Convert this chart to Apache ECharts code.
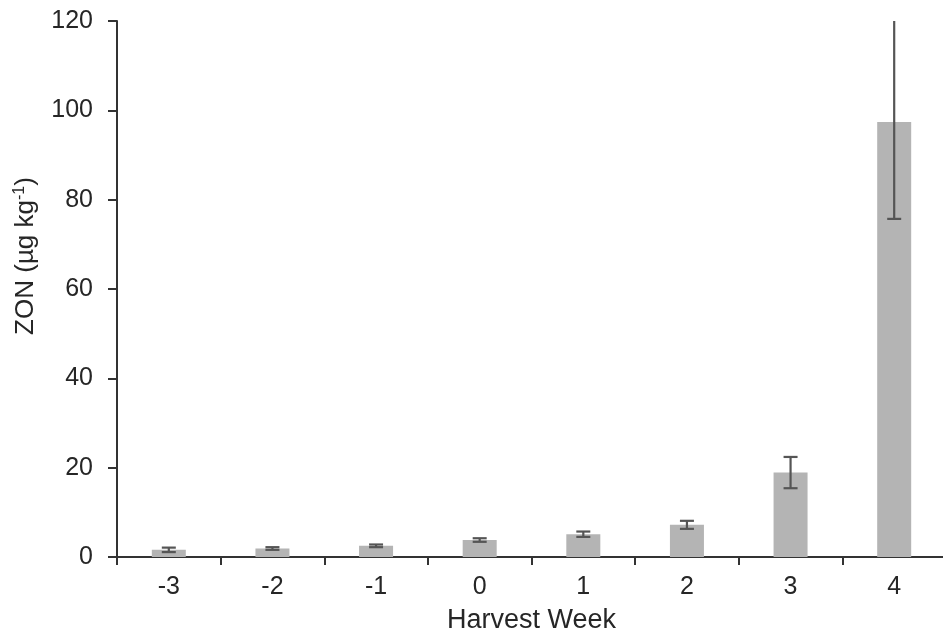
<!DOCTYPE html>
<html>
<head>
<meta charset="utf-8">
<script src="https://cdn.jsdelivr.net/npm/echarts@6/dist/echarts.min.js"></script>
<style>
  html, body { margin: 0; padding: 0; background: #fff; }
  #chart { width: 943px; height: 639px; }
</style>
</head>
<body>
<div id="chart"></div>
<script>
// Harvest week categories and mean ZON concentration (µg/kg)
const weeks = ['-3', '-2', '-1', '0', '1', '2', '3', '4'];
const zonMean = [1.6, 1.9, 2.5, 3.8, 5.1, 7.2, 18.9, 97.4];
// error bar half-lengths below and above the mean
const errLow  = [0.5, 0.3, 0.3, 0.4, 0.6, 0.9, 3.5, 21.7];
const errHigh = [0.5, 0.3, 0.3, 0.4, 0.6, 0.9, 3.5, 25.0];
const yTicks = { min: 0, max: 120, interval: 20 };

const FONT = '"Liberation Sans", Arial, sans-serif';
const AXIS = '#333333';
const TEXT = '#262626';

const errData = weeks.map((w, i) => [i, zonMean[i] - errLow[i], zonMean[i] + errHigh[i]]);

const chart = echarts.init(document.getElementById('chart'), null, { renderer: 'canvas' });
chart.setOption({
  backgroundColor: '#ffffff',
  animation: false,
  grid: { left: 117, right: -3, top: 21, bottom: 82, containLabel: false, outerBoundsMode: 'none' },
  xAxis: {
    type: 'category',
    data: weeks,
    name: 'Harvest Week',
    nameLocation: 'middle',
    nameGap: 50,
    nameTextStyle: { fontFamily: FONT, fontSize: 27, color: TEXT },
    axisLine: { lineStyle: { color: AXIS, width: 2 } },
    axisTick: { show: true, inside: false, length: 8, alignWithLabel: false, lineStyle: { color: AXIS, width: 2 } },
    axisLabel: { fontFamily: FONT, fontSize: 25, color: TEXT, margin: 18 },
    splitLine: { show: false }
  },
  yAxis: {
    type: 'value',
    min: yTicks.min,
    max: yTicks.max,
    interval: yTicks.interval,
    name: '{n|ZON (µg kg}{s|-1}{n|)}',
    nameLocation: 'middle',
    nameRotate: 90,
    nameGap: 78,
    nameTextStyle: {
      fontFamily: FONT, color: TEXT,
      // extra leading space lifts the title slightly above the axis midpoint
      padding: [0, 0, 0, 66],
      rich: {
        n: { fontFamily: FONT, fontSize: 26, color: TEXT },
        s: { fontFamily: FONT, fontSize: 16, color: TEXT, verticalAlign: 'top', padding: [0, 0, 11, 0] }
      }
    },
    axisLine: { show: true, lineStyle: { color: AXIS, width: 2 } },
    axisTick: { show: true, inside: false, length: 9, lineStyle: { color: AXIS, width: 2 } },
    axisLabel: { fontFamily: FONT, fontSize: 25, color: TEXT, margin: 24 },
    splitLine: { show: false }
  },
  series: [
    {
      type: 'bar',
      data: zonMean,
      barWidth: 34,
      itemStyle: { color: '#b4b4b4' },
      silent: true
    },
    {
      type: 'custom',
      data: errData,
      z: 10,
      silent: true,
      renderItem: function (params, api) {
        const idx = api.value(0);
        const lo = api.value(1);
        const hiRaw = api.value(2);
        const clipped = hiRaw > yTicks.max;
        const hi = Math.min(hiRaw, yTicks.max);
        const pLo = api.coord([idx, lo]);
        const pHi = api.coord([idx, hi]);
        const half = 7;
        const style = { stroke: '#555555', lineWidth: 2.2 };
        const children = [
          { type: 'line', shape: { x1: pLo[0], y1: pLo[1], x2: pHi[0], y2: pHi[1] }, style: style },
          { type: 'line', shape: { x1: pLo[0] - half, y1: pLo[1], x2: pLo[0] + half, y2: pLo[1] }, style: style }
        ];
        if (!clipped) {
          children.push({ type: 'line', shape: { x1: pHi[0] - half, y1: pHi[1], x2: pHi[0] + half, y2: pHi[1] }, style: style });
        }
        return { type: 'group', children: children };
      }
    }
  ]
});
</script>
</body>
</html>
